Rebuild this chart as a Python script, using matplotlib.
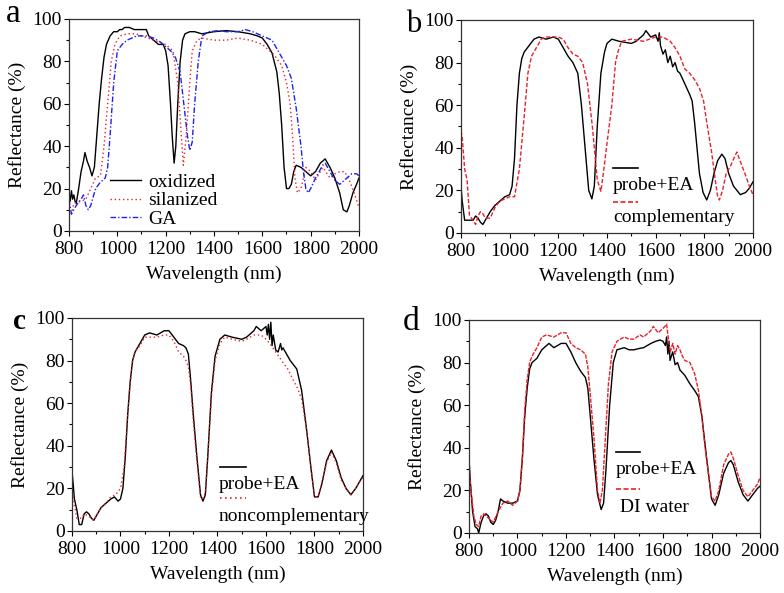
import matplotlib
matplotlib.use("Agg")
import matplotlib.pyplot as plt

plt.rcParams['font.family'] = ['Liberation Serif', 'DejaVu Serif']
plt.rcParams['mathtext.fontset'] = 'stix'

# ---------------- Panel a ----------------
a_ox_x = [800, 805, 810, 815, 820, 825, 830, 840, 850, 860, 866, 875, 885, 895, 905, 915, 925, 935, 945, 955, 970, 985, 1000, 1010, 1020, 1030, 1050, 1070, 1100, 1120, 1130, 1150, 1170, 1190, 1200, 1210, 1220, 1227, 1235, 1242, 1250, 1260, 1270, 1280, 1300, 1320, 1350, 1400, 1450, 1500, 1550, 1580, 1600, 1620, 1640, 1660, 1670, 1680, 1690, 1700, 1710, 1720, 1730, 1740, 1760, 1780, 1800, 1820, 1840, 1860, 1880, 1900, 1920, 1935, 1950, 1960, 1975, 1990, 2000]
a_ox_y = [18, 14, 19, 15, 17, 14, 13, 20, 28, 33, 37, 33, 30, 26, 30, 45, 60, 72, 82, 88, 92, 94, 94, 95, 95, 96, 96, 95, 95, 95, 92, 90, 88, 88, 85, 78, 60, 45, 32, 40, 60, 80, 90, 93, 94, 94, 93, 94, 94.5, 94, 93, 92, 91, 88, 84, 75, 65, 50, 30, 20, 20, 22, 28, 31, 30, 28, 26, 28, 32, 34, 30, 25, 18, 10, 9, 12, 18, 22, 25]
a_si_x = [800, 810, 820, 850, 870, 890, 910, 930, 945, 960, 975, 990, 1010, 1040, 1080, 1100, 1150, 1200, 1230, 1250, 1262, 1273, 1285, 1300, 1310, 1330, 1350, 1400, 1450, 1500, 1550, 1600, 1650, 1680, 1700, 1715, 1725, 1735, 1745, 1760, 1780, 1800, 1820, 1850, 1880, 1900, 1920, 1940, 1960, 1980, 2000]
a_si_y = [10, 8, 13, 14, 15, 20, 25, 26, 40, 60, 80, 88, 92, 93, 93, 92, 90, 88, 85, 70, 50, 31, 45, 70, 85, 90, 91, 90, 90, 91, 90, 88, 83, 78, 70, 60, 45, 25, 18, 20, 30, 28, 24, 30, 25, 27, 28, 28, 24, 18, 11]
a_ga_x = [800, 810, 830, 850, 860, 870, 880, 890, 910, 930, 950, 960, 970, 985, 1000, 1020, 1040, 1080, 1120, 1150, 1180, 1200, 1220, 1240, 1260, 1275, 1290, 1300, 1310, 1320, 1335, 1350, 1380, 1420, 1450, 1500, 1530, 1560, 1600, 1640, 1660, 1700, 1720, 1740, 1760, 1770, 1780, 1790, 1800, 1820, 1850, 1860, 1880, 1900, 1920, 1950, 1970, 1990, 2000]
a_ga_y = [15, 8, 12, 15, 17, 12, 10, 12, 20, 23, 25, 30, 45, 70, 85, 88, 90, 92, 92, 91, 89, 87, 85, 82, 75, 60, 45, 38, 42, 60, 80, 92, 94, 94.5, 94, 94, 95, 94, 92, 90, 86, 78, 72, 58, 40, 28, 20, 18, 20, 25, 31, 32, 28, 24, 22, 25, 27, 27, 26]
a_labels = ["oxidized", "silanized", "GA"]

# ---------------- Panel b ----------------
b_pr_x = [800, 805, 815, 830, 850, 860, 870, 880, 890, 900, 920, 940, 960, 980, 1000, 1010, 1020, 1030, 1040, 1050, 1060, 1080, 1100, 1120, 1150, 1180, 1200, 1220, 1240, 1260, 1280, 1295, 1310, 1325, 1338, 1348, 1360, 1375, 1390, 1400, 1420, 1450, 1500, 1520, 1550, 1560, 1580, 1600, 1610, 1615, 1620, 1630, 1640, 1650, 1660, 1670, 1680, 1690, 1700, 1720, 1740, 1750, 1760, 1770, 1780, 1795, 1810, 1825, 1840, 1855, 1872, 1885, 1900, 1920, 1948, 1970, 1985, 2000]
b_pr_y = [22, 15, 6, 6, 6, 8, 7, 5, 4, 6, 10, 13, 15, 17, 18, 22, 35, 60, 75, 82, 85, 88, 91, 92, 91, 92, 91, 87, 83, 80, 75, 60, 40, 20, 16, 22, 50, 75, 85, 89, 91, 90, 89, 90, 93, 95, 92, 93, 90, 94, 88, 84, 86, 80, 83, 78, 80, 76, 75, 70, 65, 62, 52, 40, 28, 19, 15.5, 20, 28, 34, 37, 35, 28, 22, 18, 19, 21, 24]
b_co_x = [800, 805, 815, 825, 835, 850, 860, 870, 880, 890, 900, 920, 940, 960, 980, 1000, 1020, 1040, 1060, 1075, 1090, 1110, 1130, 1150, 1200, 1220, 1240, 1260, 1280, 1300, 1320, 1340, 1360, 1375, 1385, 1400, 1420, 1435, 1445, 1460, 1500, 1550, 1600, 1630, 1660, 1680, 1700, 1720, 1740, 1760, 1780, 1797, 1810, 1830, 1845, 1855, 1862, 1875, 1890, 1910, 1925, 1934, 1950, 1970, 1985, 2000]
b_co_y = [48, 45, 30, 25, 8, 6, 4, 8, 10, 9, 7, 7, 12, 15, 16, 17, 17, 30, 55, 75, 83, 87, 91, 92, 92, 91, 87, 84, 83, 80, 70, 50, 25, 19.5, 28, 42, 60, 80, 85, 90, 91, 90, 92, 92, 90, 87, 83, 77, 75, 72, 68, 62, 52, 38, 25, 17, 15.5, 20, 28, 32, 36, 38, 33, 27, 22, 18]
b_labels = ["probe+EA", "complementary"]

# ---------------- Panel c ----------------
c_pr_x = [800, 805, 810, 820, 830, 840, 850, 860, 870, 880, 890, 900, 920, 940, 960, 975, 990, 1000, 1010, 1020, 1030, 1040, 1050, 1060, 1080, 1100, 1120, 1150, 1180, 1200, 1220, 1240, 1260, 1270, 1280, 1290, 1300, 1315, 1330, 1340, 1350, 1360, 1375, 1390, 1410, 1430, 1460, 1500, 1520, 1550, 1560, 1580, 1600, 1605, 1610, 1615, 1620, 1625, 1630, 1640, 1650, 1660, 1665, 1670, 1685, 1700, 1727, 1747, 1768, 1785, 1800, 1815, 1830, 1850, 1870, 1890, 1910, 1930, 1950, 1970, 1990, 2000]
c_pr_y = [28, 22, 15, 10, 3, 3, 8, 9, 8, 6, 5, 7, 11, 13, 15, 16, 14, 15, 20, 35, 55, 70, 80, 84, 88, 92, 93, 92, 94, 94, 91, 88, 87, 86, 83, 70, 55, 35, 17, 14, 17, 35, 65, 82, 90, 92, 91, 90, 91, 94, 96, 94, 96, 92, 97, 90, 98, 87, 92, 85, 84, 88, 85, 86, 83, 80, 76, 66, 47, 30, 16, 16, 22, 33, 38, 33, 25, 20, 17, 20, 24, 26]
c_nc_x = [800, 810, 820, 840, 850, 870, 890, 900, 920, 940, 960, 980, 1000, 1015, 1030, 1040, 1050, 1060, 1080, 1100, 1120, 1150, 1180, 1200, 1220, 1240, 1260, 1270, 1280, 1290, 1300, 1315, 1330, 1340, 1350, 1360, 1375, 1390, 1410, 1430, 1460, 1500, 1520, 1550, 1580, 1600, 1616, 1640, 1671, 1690, 1712, 1730, 1747, 1768, 1785, 1800, 1815, 1830, 1850, 1870, 1890, 1910, 1930, 1950, 1970, 1990, 2000]
c_nc_y = [20, 12, 6, 6, 8, 7, 5, 7, 11, 13, 16, 17, 20, 30, 55, 70, 80, 84, 87, 91, 91, 91, 92, 92, 89, 84, 82, 80, 77, 68, 52, 33, 16, 15, 18, 35, 63, 80, 88, 91, 90, 89, 90, 92, 92, 90, 88, 84, 79, 76, 71, 67, 62, 47, 30, 16, 16, 22, 32, 37, 32, 24, 20, 17, 20, 24, 25]
c_labels = ["probe+EA", "noncomplementary"]

# ---------------- Panel d ----------------
d_pr_x = [800, 805, 815, 825, 835, 840, 850, 860, 870, 880, 890, 900, 910, 920, 930, 940, 960, 980, 1000, 1010, 1020, 1030, 1040, 1050, 1060, 1080, 1100, 1120, 1130, 1150, 1180, 1200, 1220, 1240, 1260, 1280, 1290, 1300, 1315, 1330, 1345, 1355, 1365, 1380, 1395, 1410, 1440, 1460, 1480, 1505, 1520, 1550, 1570, 1588, 1600, 1610, 1615, 1620, 1625, 1629, 1640, 1650, 1660, 1670, 1690, 1711, 1730, 1746, 1760, 1780, 1800, 1815, 1830, 1850, 1870, 1880, 1890, 1910, 1930, 1950, 1970, 1990, 2000]
d_pr_y = [35, 25, 10, 3, 2, 0, 5, 8, 9, 8, 5, 4, 6, 10, 16, 15, 14, 14, 15, 20, 35, 55, 68, 77, 80, 82, 86, 88, 89, 87, 89, 89, 85, 80, 76, 73, 68, 55, 35, 18, 11, 14, 30, 60, 80, 86, 87, 86, 86, 86.7, 87, 89, 90, 90.6, 90, 88, 92, 84, 90, 81, 85, 79, 80, 76.5, 74, 70, 67, 64, 55, 35, 16, 13, 18, 28, 33, 34, 32, 24, 18, 15, 18, 21, 22]
d_di_x = [800, 810, 820, 830, 840, 850, 860, 870, 880, 890, 900, 920, 940, 960, 980, 1000, 1010, 1020, 1030, 1040, 1050, 1060, 1080, 1100, 1120, 1150, 1180, 1200, 1220, 1240, 1260, 1280, 1290, 1300, 1315, 1330, 1340, 1350, 1360, 1375, 1390, 1410, 1440, 1460, 1480, 1505, 1520, 1550, 1560, 1580, 1600, 1615, 1620, 1630, 1640, 1650, 1660, 1670, 1680, 1690, 1711, 1730, 1746, 1760, 1773, 1785, 1800, 1815, 1830, 1850, 1870, 1880, 1890, 1910, 1930, 1950, 1970, 1990, 2000]
d_di_y = [30, 18, 8, 4, 3, 8, 9, 8, 7, 6, 5, 10, 14, 15, 13, 15, 20, 35, 58, 72, 80, 83, 87, 92, 93, 92, 94, 94, 89, 87, 86, 84, 78, 65, 45, 20, 14, 20, 40, 70, 85, 90, 92, 91, 91, 93, 92, 95, 97, 94, 96, 98, 93, 85, 89, 84, 88, 86, 83, 81, 80, 75, 67, 55, 40.5, 30, 17, 15, 20, 32, 37, 38, 35, 27, 20, 17, 20, 23, 26]
d_labels = ["probe+EA", " DI water"]

# common axis ticks
x_ticks = [800, 1000, 1200, 1400, 1600, 1800, 2000]
y_ticks = [0, 20, 40, 60, 80, 100]

RED = '#e8202a'
BLUE = '#2020f0'
LW = 1.0
FS = 14

DOT = (0, (1, 2))
DASH_B = (0, (3, 1.5))
DASH_D = (0, (3, 1))
DASHDOT = (0, (4, 1.5, 1, 1.5))

fig = plt.figure(figsize=(7.84, 5.93), dpi=100)
positions = {
    'a': [0.0880, 0.6105, 0.3699, 0.3575],
    'b': [0.5880, 0.6071, 0.3724, 0.3592],
    'c': [0.0918, 0.1046, 0.3712, 0.3592],
    'd': [0.5982, 0.1012, 0.3712, 0.3592],
}
axes = {k: fig.add_axes(v) for k, v in positions.items()}

for k, ax in axes.items():
    ax.set_xlim(800, 2000)
    ax.set_ylim(0, 100)
    ax.set_xticks(x_ticks)
    ax.set_yticks(y_ticks)
    ax.set_xticks(range(900, 2000, 200), minor=True)
    ax.set_yticks(range(10, 100, 20), minor=True)
    ax.tick_params(which='both', direction='out', top=False, right=False, labelsize=FS)
    ax.tick_params(axis='x', which='both', pad=3.5)
    ax.tick_params(axis='y', which='both', pad=1.5)
    ax.tick_params(which='major', length=3.5, width=0.8)
    ax.tick_params(which='minor', length=2, width=0.8)
    for s in ax.spines.values():
        s.set_linewidth(0.9)
        s.set_color('#333333')
    ax.set_xlabel('Wavelength (nm)', fontsize=FS, labelpad=6)
    ax.set_ylabel('Reflectance (%)', fontsize=FS, labelpad=5)

# panel a
ax = axes['a']
ax.plot(a_ox_x, a_ox_y, color='black', lw=LW, label=a_labels[0])
ax.plot(a_si_x, a_si_y, color=RED, lw=LW, linestyle=DOT, label=a_labels[1])
ax.plot(a_ga_x, a_ga_y, color=BLUE, lw=LW, linestyle=DASHDOT, label=a_labels[2])
ax.legend(loc='lower left', bbox_to_anchor=(0.13, 0.0), frameon=False, fontsize=FS,
          handlelength=1.6, handletextpad=0.4, labelspacing=0.05, borderpad=0.15, borderaxespad=0)


def stacked_legend(ax, colors, styles, labels, x0, x1, ys_line, ys_text, xs_text):
    for c, ls, lab, yl, yt, xt in zip(colors, styles, labels, ys_line, ys_text, xs_text):
        ax.plot([x0, x1], [yl, yl], transform=ax.transAxes, color=c,
                lw=1.2, linestyle=ls, clip_on=False)
        ax.text(xt, yt, lab, transform=ax.transAxes, fontsize=FS, va='center', ha='left')


# panel b
ax = axes['b']
ax.plot(b_pr_x, b_pr_y, color='black', lw=LW)
ax.plot(b_co_x, b_co_y, color=RED, lw=LW, linestyle=DASH_B)
stacked_legend(ax, ['black', RED], ['-', DASH_B], b_labels, 0.521, 0.606,
               [0.305, 0.146], [0.225, 0.075], [0.521, 0.521])

# panel c
ax = axes['c']
ax.plot(c_pr_x, c_pr_y, color='black', lw=LW)
ax.plot(c_nc_x, c_nc_y, color=RED, lw=LW, linestyle=DOT)
stacked_legend(ax, ['black', RED], ['-', DOT], c_labels, 0.509, 0.598,
               [0.302, 0.153], [0.219, 0.070], [0.505, 0.505])

# panel d
ax = axes['d']
ax.plot(d_pr_x, d_pr_y, color='black', lw=LW)
ax.plot(d_di_x, d_di_y, color=RED, lw=LW, linestyle=DASH_D)
stacked_legend(ax, ['black', RED], ['-', DASH_B], d_labels, 0.505, 0.588,
               [0.380, 0.205], [0.299, 0.122], [0.503, 0.503])

# panel letters
fig.text(13 / 784, 1 - 14 / 593, 'a', fontsize=24, ha='center', va='center')
fig.text(414 / 784, 1 - 24 / 593, 'b', fontsize=22, ha='center', va='center')
fig.text(19 / 784, 1 - 321 / 593, 'c', fontsize=21, ha='center', va='center', fontweight='bold')
fig.text(411 / 784, 1 - 322 / 593, 'd', fontsize=24, ha='center', va='center')

fig.savefig('out.png', dpi=100)
